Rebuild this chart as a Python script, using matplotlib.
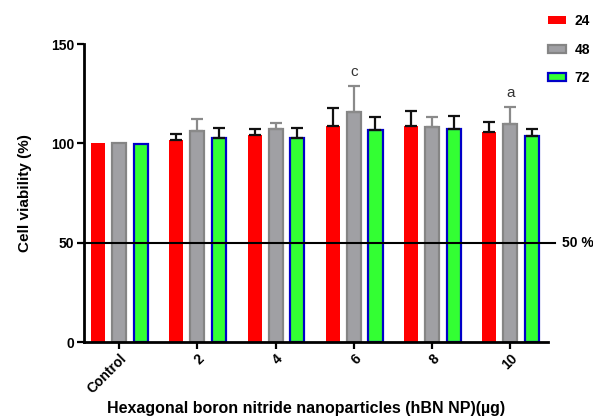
import matplotlib
matplotlib.use("Agg")
import matplotlib.pyplot as plt
from matplotlib.patches import Patch
import numpy as np

plt.rcParams['font.family'] = ['Liberation Sans', 'DejaVu Sans']

categories = ["Control", "2", "4", "6", "8", "10"]
series_names = ["24", "48", "72"]
vals_24 = [100, 101.8, 104.2, 108.8, 108.8, 105.8]
err_24 = [0, 3.0, 3.2, 9.2, 7.6, 5.0]
vals_48 = [100, 106.3, 107.4, 115.9, 108.2, 109.6]
err_48 = [0, 5.8, 2.7, 13.2, 5.3, 8.8]
vals_72 = [99.6, 102.8, 102.9, 106.7, 107.3, 103.8]
err_72 = [0, 4.8, 5.0, 6.6, 6.5, 3.5]
annotations = {("48", "6"): "c", ("48", "10"): "a"}

fig = plt.figure(figsize=(5.93, 4.19), dpi=100)
ax = fig.add_axes([84/593, 1-342/419, 464/593, 298/419])

x = np.arange(len(categories))
w = 0.18
offs = [-0.27, 0.0, 0.275]
faces = ["#ff0000", "#a0a0a4", "#33ff33"]
edges = ["#ff0000", "#858585", "#0000c8"]
ecols = ["#111111", "#8a8a8a", "#111111"]
all_vals = [vals_24, vals_48, vals_72]
all_errs = [err_24, err_48, err_72]

for i, (vals, errs) in enumerate(zip(all_vals, all_errs)):
    xs = x + offs[i]
    ax.bar(xs, vals, width=w, color=faces[i], edgecolor=edges[i],
           linewidth=1.6 if i > 0 else 0, zorder=2)
    errs_arr = np.array(errs)
    mask = errs_arr > 0
    ax.errorbar(xs[mask], np.array(vals)[mask],
                yerr=[np.zeros(mask.sum()), errs_arr[mask]],
                fmt='none', ecolor=ecols[i], elinewidth=1.6, capsize=4,
                capthick=1.6, zorder=3)

for (s, c), txt in annotations.items():
    si = series_names.index(s)
    ci = categories.index(c)
    top = all_vals[si][ci] + all_errs[si][ci]
    ax.text(x[ci] + offs[si], top + 3.5, txt, ha='center', va='bottom',
            fontsize=11, color='#333333')

# 50 % line
ax.plot([0, 1.015], [50, 50], transform=ax.get_yaxis_transform(),
        color='black', lw=1.5, clip_on=False, zorder=4)
ax.text(1.03, 50, "50 %", transform=ax.get_yaxis_transform(),
        ha='left', va='center', fontsize=10, fontweight='bold')

ax.set_xlim(-0.45, 5.48)
ax.set_ylim(0, 150)
ax.set_yticks([0, 50, 100, 150])
ax.set_xticks(x)
ax.set_xticklabels(categories, rotation=45, ha='right', rotation_mode='anchor',
                   fontsize=10, fontweight='bold')
for lbl in ax.get_yticklabels():
    lbl.set_fontweight('bold')
    lbl.set_fontsize(10)
ax.tick_params(axis='both', direction='out', length=5, width=1.6, pad=2)

for side in ['top', 'right']:
    ax.spines[side].set_visible(False)
for side in ['left', 'bottom']:
    ax.spines[side].set_linewidth(2)

ax.set_ylabel("Cell viability (%)", fontsize=11, fontweight='bold', labelpad=14)
ax.set_xlabel("Hexagonal boron nitride nanoparticles (hBN NP)(\u00b5g)",
              fontsize=11.5, fontweight='bold')
ax.xaxis.set_label_coords((306 - 84) / 464, -(408 - 342) / 298)
ax.xaxis.label.set_va('center')

handles = [Patch(facecolor=faces[i], edgecolor=edges[i], linewidth=1.6 if i else 0,
                 label=series_names[i]) for i in range(3)]
leg = fig.legend(handles=handles, loc='upper left', bbox_to_anchor=(548/593, 1-14/419),
                 frameon=False, handlelength=1.3, handleheight=0.5,
                 labelspacing=1.05, handletextpad=0.6, borderpad=0, borderaxespad=0,
                 prop={'weight': 'bold', 'size': 10})

fig.savefig("out.png", dpi=100)
